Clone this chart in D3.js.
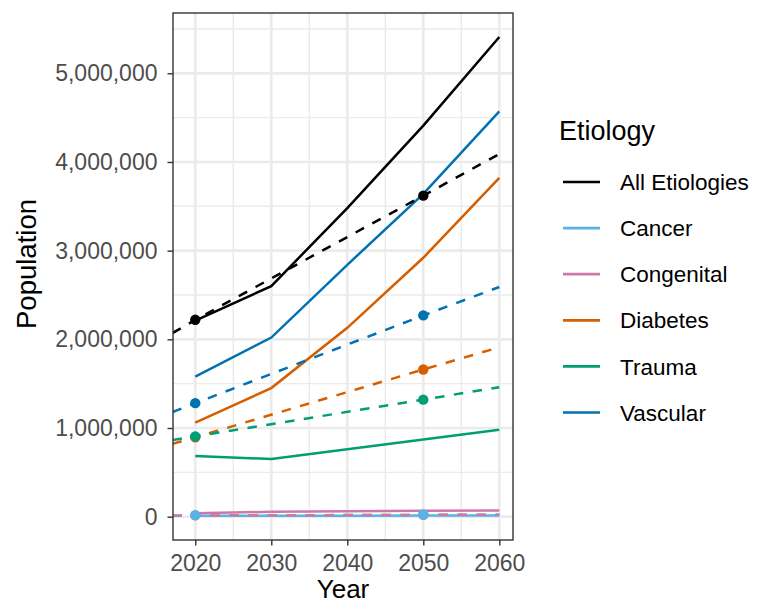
<!DOCTYPE html>
<html>
<head>
<meta charset="utf-8">
<script src="https://cdn.jsdelivr.net/npm/d3@7/dist/d3.min.js"></script>
<style>
  html, body { margin: 0; padding: 0; background: #fff; }
  svg { display: block; font-family: "Liberation Sans", Arial, Helvetica, sans-serif; }
</style>
</head>
<body>
<svg id="chart" width="758" height="604"></svg>
<script>
// ---- data ----
const etiologies = ["All Etiologies", "Cancer", "Congenital", "Diabetes", "Trauma", "Vascular"];
const colors = ["#000000", "#56B4E9", "#CC79A7", "#D55E00", "#009E73", "#0072B2"];
const years = [2020, 2030, 2040, 2050, 2060];

// projected (solid) values per etiology at `years`
const allEtiologies = [2210000, 2600000, 3480000, 4410000, 5410000];
const cancer        = [10000, 10000, 11000, 12000, 13000];
const congenital    = [38000, 55000, 62000, 66000, 70000];
const diabetes      = [1060000, 1450000, 2130000, 2920000, 3820000];
const trauma        = [684000, 650000, 760000, 870000, 980000];
const vascular      = [1580000, 2020000, 2840000, 3640000, 4570000];

// trend (dashed) values at `trendYears`
const trendYears = [2017, 2020, 2050, 2060];
const allTrend        = [2070000, 2220000, 3620000, 4090000];
const cancerTrend     = [11000, 13000, 20000, 23000];
const congenitalTrend = [12000, 14000, 20000, 22000];
const diabetesTrend   = [820000, 895000, 1660000, 1910000];
const traumaTrend     = [865000, 905000, 1320000, 1460000];
const vascularTrend   = [1180000, 1280000, 2270000, 2590000];

// observed points
const pointYears = [2020, 2050];
const allPts        = [2220000, 3620000];
const cancerPts     = [18000, 25000];
const congenitalPts = [15000, 20000];
const diabetesPts   = [895000, 1660000];
const traumaPts     = [905000, 1320000];
const vascularPts   = [1280000, 2270000];

const xTicks = [2020, 2030, 2040, 2050, 2060];
const xMinor = [2025, 2035, 2045, 2055];
const yTicks = [0, 1000000, 2000000, 3000000, 4000000, 5000000];
const yMinor = [500000, 1500000, 2500000, 3500000, 4500000, 5500000];

const solid = [allEtiologies, cancer, congenital, diabetes, trauma, vascular];
const trend = [allTrend, cancerTrend, congenitalTrend, diabetesTrend, traumaTrend, vascularTrend];
const pts   = [allPts, cancerPts, congenitalPts, diabetesPts, traumaPts, vascularPts];

// ---- layout ----
const FONT = "'Liberation Sans', Arial, Helvetica, sans-serif";
const svg = d3.select("#chart");
const P = { left: 173, right: 513, top: 13, bottom: 540 };

const x = d3.scaleLinear().domain([2017.07, 2061.8]).range([P.left, P.right]);
const y = d3.scaleLinear().domain([-263000, 5680000]).range([P.bottom, P.top]);

svg.append("defs").append("clipPath").attr("id", "clip")
  .append("rect").attr("x", P.left).attr("y", P.top)
  .attr("width", P.right - P.left).attr("height", P.bottom - P.top);

// grid
const grid = svg.append("g");
grid.selectAll(".ymin").data(yMinor).join("line")
  .attr("x1", P.left).attr("x2", P.right).attr("y1", d => y(d)).attr("y2", d => y(d))
  .attr("stroke", "#EBEBEB").attr("stroke-width", 1.4);
grid.selectAll(".xmin").data(xMinor).join("line")
  .attr("y1", P.top).attr("y2", P.bottom).attr("x1", d => x(d)).attr("x2", d => x(d))
  .attr("stroke", "#EBEBEB").attr("stroke-width", 1.4);
grid.selectAll(".ymaj").data(yTicks).join("line")
  .attr("x1", P.left).attr("x2", P.right).attr("y1", d => y(d)).attr("y2", d => y(d))
  .attr("stroke", "#EBEBEB").attr("stroke-width", 2.7);
grid.selectAll(".xmaj").data(xTicks).join("line")
  .attr("y1", P.top).attr("y2", P.bottom).attr("x1", d => x(d)).attr("x2", d => x(d))
  .attr("stroke", "#EBEBEB").attr("stroke-width", 2.7);

const plot = svg.append("g").attr("clip-path", "url(#clip)");

const line = d3.line().x(d => x(d[0])).y(d => y(d[1]));

// solid projected lines
etiologies.forEach((e, i) => {
  plot.append("path")
    .datum(years.map((yr, j) => [yr, solid[i][j]]))
    .attr("d", line).attr("fill", "none")
    .attr("stroke", colors[i]).attr("stroke-width", 2.5);
});
// dashed trend lines
etiologies.forEach((e, i) => {
  plot.append("path")
    .datum(trendYears.map((yr, j) => [yr, trend[i][j]]))
    .attr("d", line).attr("fill", "none")
    .attr("stroke", colors[i]).attr("stroke-width", 2.5)
    .attr("stroke-dasharray", "9.5,9.5");
});
// points (Congenital drawn first so Cancer sits on top, as in the reference)
const pointOrder = [2, 0, 1, 3, 4, 5];
pointOrder.forEach(i => {
  plot.selectAll(null).data(pointYears.map((yr, j) => [yr, pts[i][j]])).join("circle")
    .attr("cx", d => x(d[0])).attr("cy", d => y(d[1])).attr("r", 5.2)
    .attr("fill", colors[i]);
});

// panel border
svg.append("rect").attr("x", P.left).attr("y", P.top)
  .attr("width", P.right - P.left).attr("height", P.bottom - P.top)
  .attr("fill", "none").attr("stroke", "#333333").attr("stroke-width", 1.4);

// axes
const yAxis = svg.append("g").attr("transform", `translate(${P.left},0)`)
  .call(d3.axisLeft(y).tickValues(yTicks).tickFormat(d3.format(",")).tickSize(5.5).tickPadding(10));
const xAxis = svg.append("g").attr("transform", `translate(0,${P.bottom})`)
  .call(d3.axisBottom(x).tickValues(xTicks).tickFormat(d3.format("d")).tickSize(5.5).tickPadding(9));
[yAxis, xAxis].forEach(a => {
  a.select(".domain").remove();
  a.selectAll(".tick line").attr("stroke", "#333333").attr("stroke-width", 1.4);
  a.selectAll(".tick text").attr("fill", "#4D4D4D").style("font-size", "23px")
    .style("font-family", FONT);
});

// axis titles
svg.append("text").attr("x", (P.left + P.right) / 2).attr("y", 597.5)
  .attr("text-anchor", "middle").style("font-size", "26px").attr("fill", "#000").text("Year");
svg.append("text").attr("transform", `translate(36,264) rotate(-90)`)
  .attr("text-anchor", "middle").style("font-size", "27.5px").attr("fill", "#000").text("Population");

// legend
const lg = svg.append("g");
lg.append("text").attr("x", 559).attr("y", 139.5).style("font-size", "27px").attr("fill", "#000").text("Etiology");
etiologies.forEach((e, i) => {
  const yy = 182 + i * 46.1;
  lg.append("line").attr("x1", 563).attr("x2", 600).attr("y1", yy).attr("y2", yy)
    .attr("stroke", colors[i]).attr("stroke-width", 2.7);
  lg.append("text").attr("x", 620).attr("y", yy).attr("dy", "0.36em")
    .style("font-size", "22.5px").attr("fill", "#000").text(e);
});
</script>
</body>
</html>
